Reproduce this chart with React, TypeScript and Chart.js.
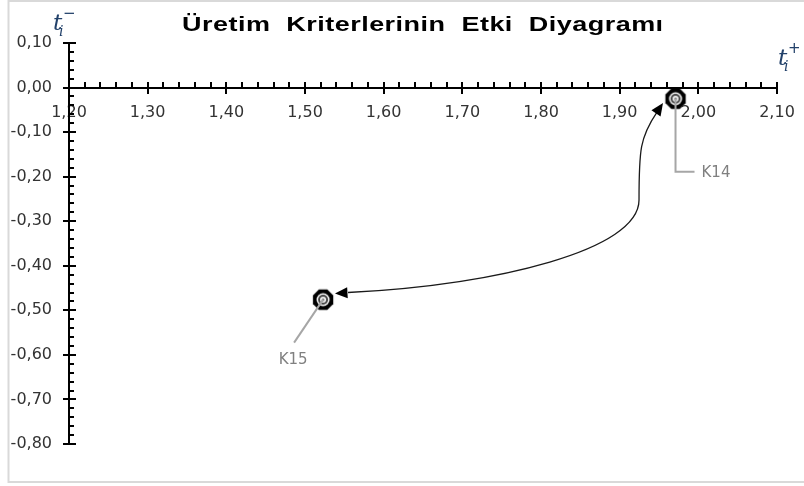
import React, { useEffect, useRef } from 'react';
import { Chart, registerables } from 'chart.js';

Chart.register(...registerables);

// ---- data ----
const titleText = 'Üretim  Kriterlerinin  Etki  Diyagramı';
const pointLabels = ['K14', 'K15'];
const xValues = [1.971, 1.523];
const yValues = [-0.025, -0.476];

const xRange = [1.2, 2.1];
const yRange = [-0.8, 0.1];
const xTickValues = [1.2, 1.3, 1.4, 1.5, 1.6, 1.7, 1.8, 1.9, 2.0, 2.1];
const xTickLabels = ['1,20', '1,30', '1,40', '1,50', '1,60', '1,70', '1,80', '1,90', '2,00', '2,10'];
const yTickValues = [0.1, 0.0, -0.1, -0.2, -0.3, -0.4, -0.5, -0.6, -0.7, -0.8];
const yTickLabels = ['0,10', '0,00', '-0,10', '-0,20', '-0,30', '-0,40', '-0,50', '-0,60', '-0,70', '-0,80'];
const minorPerMajor = 5;

// curved double-headed arrow between K15 and K14, in data units
const arrowTailTipX = 1.5381;
const arrowTailTipY = -0.4622;
const arrowPathX = [1.5547, 1.7453, 1.9246, 1.9246, 1.9246, 1.9258, 1.9475];
const arrowPathY = [-0.4600, -0.4420, -0.3646, -0.2524, -0.1401, -0.1110, -0.0549];
const arrowHeadTipX = 1.9551;
const arrowHeadTipY = -0.0347;

function makeMarker(): HTMLCanvasElement {
  const c = document.createElement('canvas');
  c.width = 24;
  c.height = 24;
  const g = c.getContext('2d')!;
  const cx = 12, cy = 12;
  g.fillStyle = '#000';
  g.beginPath();
  for (let i = 0; i < 8; i++) {
    const a = Math.PI / 8 + (i * Math.PI) / 4;
    const r = 11;
    const x = cx + r * Math.cos(a), y = cy + r * Math.sin(a);
    if (i === 0) g.moveTo(x, y); else g.lineTo(x, y);
  }
  g.closePath();
  g.fill();
  g.fillStyle = '#fff';
  g.beginPath(); g.arc(cx, cy, 6.5, 0, Math.PI * 2); g.fill();
  g.fillStyle = '#404040';
  g.beginPath(); g.arc(cx, cy, 5, 0, Math.PI * 2); g.fill();
  g.fillStyle = '#fff';
  g.beginPath(); g.arc(cx, cy, 3, 0, Math.PI * 2); g.fill();
  g.fillStyle = '#808080';
  g.beginPath(); g.arc(cx, cy, 1.5, 0, Math.PI * 2); g.fill();
  return c;
}

const decorPlugin = {
  id: 'decor',
  beforeDatasetsDraw(chart: any) {
    const { ctx } = chart;
    const xs = chart.scales.x;
    const ys = chart.scales.y;
    const y0 = Math.round(ys.getPixelForValue(0));
    const x0 = Math.round(xs.getPixelForValue(xRange[0]));
    ctx.save();
    ctx.strokeStyle = '#000';
    ctx.lineWidth = 2;
    // x axis
    ctx.beginPath();
    ctx.moveTo(xs.getPixelForValue(xRange[0]), y0);
    ctx.lineTo(xs.getPixelForValue(xRange[1]) + 1, y0);
    ctx.stroke();
    // y axis
    ctx.beginPath();
    ctx.moveTo(x0, ys.getPixelForValue(yRange[1]) - 1);
    ctx.lineTo(x0, ys.getPixelForValue(yRange[0]) + 1);
    ctx.stroke();
    // x ticks
    for (let i = 0; i < xTickValues.length; i++) {
      const p = Math.round(xs.getPixelForValue(xTickValues[i]));
      ctx.beginPath(); ctx.moveTo(p, y0 - 6); ctx.lineTo(p, y0 + 6); ctx.stroke();
      if (i < xTickValues.length - 1) {
        const step = (xTickValues[i + 1] - xTickValues[i]) / minorPerMajor;
        for (let k = 1; k < minorPerMajor; k++) {
          const q = Math.round(xs.getPixelForValue(xTickValues[i] + k * step));
          ctx.beginPath(); ctx.moveTo(q, y0 - 6); ctx.lineTo(q, y0); ctx.stroke();
        }
      }
    }
    // y ticks
    for (let i = 0; i < yTickValues.length; i++) {
      const p = Math.round(ys.getPixelForValue(yTickValues[i]));
      ctx.beginPath(); ctx.moveTo(x0 - 6, p); ctx.lineTo(x0 + 7, p); ctx.stroke();
      if (i < yTickValues.length - 1) {
        const step = (yTickValues[i + 1] - yTickValues[i]) / minorPerMajor;
        for (let k = 1; k < minorPerMajor; k++) {
          const q = Math.round(ys.getPixelForValue(yTickValues[i] + k * step));
          ctx.beginPath(); ctx.moveTo(x0, q); ctx.lineTo(x0 + 5, q); ctx.stroke();
        }
      }
    }
    // arrow curve
    const P = arrowPathX.map((v, i) => [xs.getPixelForValue(v), ys.getPixelForValue(arrowPathY[i])]);
    ctx.strokeStyle = '#1a1a1a';
    ctx.lineWidth = 1.3;
    ctx.beginPath();
    ctx.moveTo(P[0][0], P[0][1]);
    for (let i = 1; i + 2 < P.length; i += 3) {
      ctx.bezierCurveTo(P[i][0], P[i][1], P[i + 1][0], P[i + 1][1], P[i + 2][0], P[i + 2][1]);
    }
    ctx.stroke();
    const head = (tx: number, ty: number, bx: number, by: number) => {
      const dx = tx - bx, dy = ty - by;
      const len = Math.hypot(dx, dy);
      const ux = dx / len, uy = dy / len;
      const L = 12.5, W = 5.5;
      const baseX = tx - ux * L, baseY = ty - uy * L;
      ctx.fillStyle = '#000';
      ctx.beginPath();
      ctx.moveTo(tx, ty);
      ctx.lineTo(baseX - uy * W, baseY + ux * W);
      ctx.lineTo(baseX + uy * W, baseY - ux * W);
      ctx.closePath();
      ctx.fill();
    };
    head(xs.getPixelForValue(arrowTailTipX), ys.getPixelForValue(arrowTailTipY), P[1][0], P[1][1]);
    const n = P.length - 1;
    head(xs.getPixelForValue(arrowHeadTipX), ys.getPixelForValue(arrowHeadTipY), P[n - 1][0], P[n - 1][1]);
    ctx.restore();
  },
  afterDraw(chart: any) {
    const { ctx, chartArea } = chart;
    const xs = chart.scales.x;
    const ys = chart.scales.y;
    ctx.save();
    // outer border
    ctx.strokeStyle = '#d9d9d9';
    ctx.lineWidth = 2;
    ctx.strokeRect(8.5, 1, 820, 481);

    // leaders and labels
    const meta = chart.getDatasetMeta(0);
    ctx.strokeStyle = '#a6a6a6';
    ctx.lineWidth = 2;
    ctx.fillStyle = '#808080';
    ctx.font = '15px "DejaVu Sans"';
    ctx.textBaseline = 'middle';
    meta.data.forEach((el: any, i: number) => {
      const x = el.x, y = el.y;
      if (i === 0) {
        ctx.beginPath();
        ctx.moveTo(x, y);
        ctx.lineTo(x, y + 73);
        ctx.lineTo(x + 19, y + 73);
        ctx.stroke();
        ctx.textAlign = 'left';
        ctx.fillText(pointLabels[i], x + 26, y + 74);
      } else {
        ctx.beginPath();
        ctx.moveTo(x, y);
        ctx.lineTo(x - 29, y + 43);
        ctx.stroke();
        ctx.textAlign = 'center';
        ctx.fillText(pointLabels[i], x - 30, y + 60);
      }
    });

    // title
    ctx.fillStyle = '#000';
    ctx.font = 'bold 20px "Liberation Sans", Arial, sans-serif';
    ctx.textAlign = 'left';
    ctx.textBaseline = 'alphabetic';
    const targetW = 481;
    const sx = 1.35;
    const w = ctx.measureText(titleText).width;
    const ls = Math.max(0, (targetW / sx - w) / (titleText.length - 1));
    (ctx as any).letterSpacing = ls.toFixed(2) + 'px';
    ctx.save();
    ctx.translate(182, 31);
    ctx.scale(sx, 1);
    ctx.fillText(titleText, 0, 0);
    ctx.restore();
    (ctx as any).letterSpacing = '0px';

    // axis titles
    const axisColor = '#22416a';
    ctx.fillStyle = axisColor;
    const drawT = (bx: number, by: number, sup: string) => {
      ctx.font = 'italic 23px "DejaVu Serif", serif';
      ctx.textAlign = 'left';
      ctx.fillText('t', bx, by);
      ctx.font = 'italic 14px "DejaVu Serif", serif';
      ctx.fillText('i', bx + 6, by + 6);
      ctx.font = '15px "DejaVu Sans", sans-serif';
      ctx.fillText(sup, bx + 10, by - 12);
    };
    drawT(chartArea.left - 16, chartArea.top - 13, '\u2212');
    drawT(xs.getPixelForValue(xRange[1]) + 1, Math.round(ys.getPixelForValue(0)) - 23, '+');
    ctx.restore();
  },
};

export default function App() {
  const ref = useRef<HTMLCanvasElement | null>(null);
  useEffect(() => {
    if (!ref.current) return;
    const marker = makeMarker();
    const chart = new Chart(ref.current, {
      type: 'scatter',
      data: {
        datasets: [
          {
            data: xValues.map((x, i) => ({ x, y: yValues[i] })),
            pointStyle: marker as any,
            pointRadius: 11,
            showLine: false,
          },
        ],
      },
      options: {
        animation: false,
        responsive: false,
        maintainAspectRatio: false,
        layout: { padding: { left: 0, top: 43, right: 27, bottom: 42 } },
        plugins: {
          legend: { display: false },
          tooltip: { enabled: false },
          title: { display: false },
        },
        scales: {
          x: {
            type: 'linear',
            min: xRange[0],
            max: xRange[1],
            position: { y: 0 } as any,
            grid: { display: false, drawTicks: false },
            border: { display: false },
            afterBuildTicks: (s: any) => {
              s.ticks = xTickValues.map((v) => ({ value: v }));
            },
            afterFit: (s: any) => {
              s.paddingLeft = 0;
              s.paddingRight = 0;
              s.paddingTop = 0;
              s.paddingBottom = 0;
            },
            ticks: {
              autoSkip: false,
              maxRotation: 0,
              padding: 16,
              color: '#333333',
              font: { family: 'DejaVu Sans', size: 16 },
              callback: (_v: any, i: number) => xTickLabels[i],
            },
          },
          y: {
            type: 'linear',
            min: yRange[0],
            max: yRange[1],
            position: 'left',
            grid: { display: false, drawTicks: false },
            border: { display: false },
            afterFit: (s: any) => {
              s.width = 69;
              s.paddingTop = 0;
              s.paddingBottom = 0;
              s.paddingLeft = 0;
              s.paddingRight = 0;
            },
            afterBuildTicks: (s: any) => {
              s.ticks = yTickValues.slice().reverse().map((v) => ({ value: v }));
            },
            ticks: {
              autoSkip: false,
              padding: 17,
              color: '#333333',
              font: { family: 'DejaVu Sans', size: 16 },
              callback: (_v: any, i: number) => yTickLabels.slice().reverse()[i],
            },
          },
        },
      },
      plugins: [decorPlugin],
    });
    return () => chart.destroy();
  }, []);
  return (
    <div style={{ position: 'fixed', left: 0, top: 0, width: 804, height: 486, background: '#fff' }}>
      <canvas ref={ref} width={804} height={486} style={{ display: 'block' }} />
    </div>
  );
}
